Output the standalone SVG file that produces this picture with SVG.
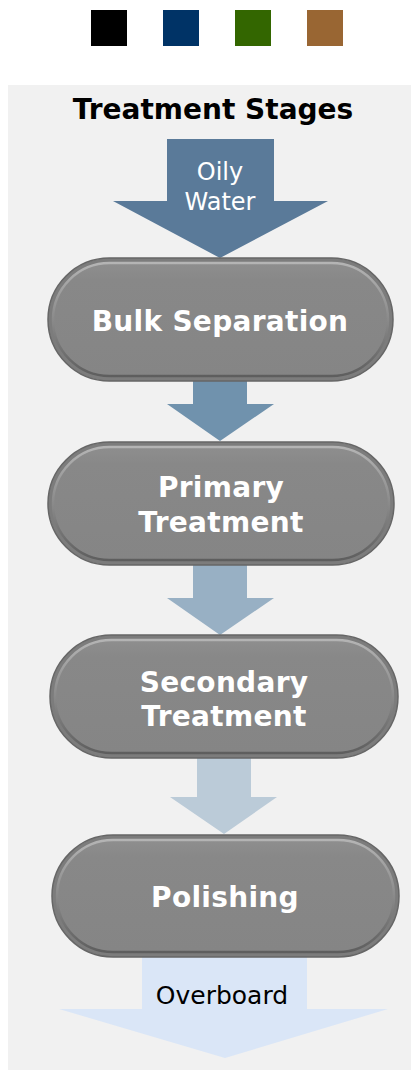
<svg xmlns="http://www.w3.org/2000/svg" width="411" height="1074" viewBox="0 0 411 1074">
  <defs>
    <linearGradient id="rim" x1="0" y1="0" x2="0" y2="1">
      <stop offset="0" stop-color="#b4b4b4"/>
      <stop offset="0.5" stop-color="#8a8a8a"/>
      <stop offset="1" stop-color="#5e5e5e"/>
    </linearGradient>
    <linearGradient id="face" x1="0" y1="0" x2="0" y2="1">
      <stop offset="0" stop-color="#8e8e8e"/>
      <stop offset="0.15" stop-color="#888888"/>
      <stop offset="1" stop-color="#858585"/>
    </linearGradient>
  </defs>
  <style>
    .outer { fill: #7c7c7c; stroke: #666666; stroke-width: 1.5; }
    .inner { fill: url(#face); stroke: url(#rim); stroke-width: 2.5; }
    .lbl { font-family: "DejaVu Sans", Verdana, sans-serif; font-weight: bold; font-size: 28px; letter-spacing: 0.3px; fill: #ffffff; text-anchor: middle; }
    .alb { font-family: "DejaVu Sans", Verdana, sans-serif; font-size: 24px; text-anchor: middle; }
    .title { font-family: "DejaVu Sans", Verdana, sans-serif; font-weight: bold; font-size: 28px; fill: #000000; text-anchor: middle; }
  </style>
  <rect x="0" y="0" width="411" height="1074" fill="#ffffff"/>
  <g id="swatches">
    <rect x="91" y="10" width="36" height="36" fill="#000000"/>
    <rect x="163" y="10" width="36" height="36" fill="#003366"/>
    <rect x="235" y="10" width="36" height="36" fill="#336600"/>
    <rect x="307" y="10" width="36" height="36" fill="#996633"/>
  </g>
  <rect id="panel" x="8" y="85" width="403" height="985" fill="#f1f1f1"/>
  <text id="title" class="title" x="213" y="119">Treatment Stages</text>
  <g id="connectors">
    <g id="in-arrow">
      <polygon points="167,139 274,139 274,201 328,201 220,258 113,201 167,201" fill="#5a7a99"/>
      <text class="alb" x="220" y="180" fill="#ffffff">Oily</text>
      <text class="alb" x="220" y="210" fill="#ffffff">Water</text>
    </g>
    <polygon points="193,381 247,381 247,404 274,404 220,441 167,404 193,404" fill="#7092ad"/>
    <polygon points="193,565 247,565 247,598 274,598 220,635 167,598 193,598" fill="#98b0c4"/>
    <polygon points="197,758 251,758 251,797 277,797 224,834 170,797 197,797" fill="#bbcbd8"/>
    <g id="out-arrow">
      <polygon points="142,957 307,957 307,1009 388,1009 225,1058 59,1009 142,1009" fill="#dae6f7"/>
      <text class="alb" x="222" y="1004" fill="#000000" style="font-size:25px">Overboard</text>
    </g>
  </g>
  <g id="bulk">
    <rect class="outer" x="48" y="258" width="345" height="123" rx="61.5"/>
    <rect class="inner" x="53" y="263" width="335" height="113" rx="56.5"/>
    <text class="lbl" x="220" y="331">Bulk Separation</text>
  </g>
  <g id="primary">
    <rect class="outer" x="48" y="442" width="346" height="123" rx="61.5"/>
    <rect class="inner" x="53" y="447" width="336" height="113" rx="56.5"/>
    <text class="lbl" x="221" y="497">Primary</text>
    <text class="lbl" x="221" y="532">Treatment</text>
  </g>
  <g id="secondary">
    <rect class="outer" x="50" y="635" width="348" height="123" rx="61.5"/>
    <rect class="inner" x="55" y="640" width="338" height="113" rx="56.5"/>
    <text class="lbl" x="224" y="692">Secondary</text>
    <text class="lbl" x="224" y="726">Treatment</text>
  </g>
  <g id="polishing">
    <rect class="outer" x="52" y="835" width="347" height="122" rx="61"/>
    <rect class="inner" x="57" y="840" width="337" height="112" rx="56"/>
    <text class="lbl" x="225" y="907">Polishing</text>
  </g>
</svg>
